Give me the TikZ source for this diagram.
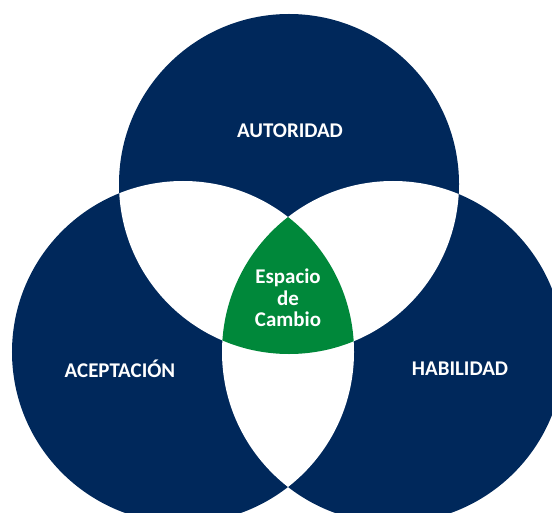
\documentclass[tikz,border=0pt]{standalone}
\usepackage{fontspec}
\setmainfont{Carlito}
\definecolor{navy}{RGB}{0,40,91}
\definecolor{cambio}{RGB}{0,136,58}
\tikzstyle{label}=[text=white, font=\fontsize{21}{21.5}\selectfont\bfseries, align=center]

\begin{document}
\begin{tikzpicture}[x=1bp, y=-1bp]
    \useasboundingbox (0,0) rectangle (552,513);
    \coordinate (cA) at (289,184);
    \coordinate (cL) at (183,352);
    \coordinate (cH) at (393,352);
    % the three circles
    \fill[navy] (cA) circle[radius=170bp];
    \fill[navy] (cL) circle[radius=171bp];
    \fill[navy] (cH) circle[radius=171bp];
    % overlaps
    \begin{scope}
        \clip (cA) circle[radius=170bp];
        \fill[white] (cL) circle[radius=171bp];
        \fill[white] (cH) circle[radius=171bp];
    \end{scope}
    \begin{scope}
        \clip (cL) circle[radius=171bp];
        \fill[white] (cH) circle[radius=171bp];
    \end{scope}
    \begin{scope}
        \clip (cA) circle[radius=170bp];
        \clip (cL) circle[radius=171bp];
        \fill[cambio] (cH) circle[radius=171bp];
    \end{scope}
    \node[label] (aut) at (290,131) {AUTORIDAD};
    \node[label] (ace) at (120,369) {ACEPTACIÓN};
    \node[label] (hab) at (460,369) {HABILIDAD};
    \node[label] (esp) at (288,298) {Espacio\\de\\Cambio};
\end{tikzpicture}
\end{document}
